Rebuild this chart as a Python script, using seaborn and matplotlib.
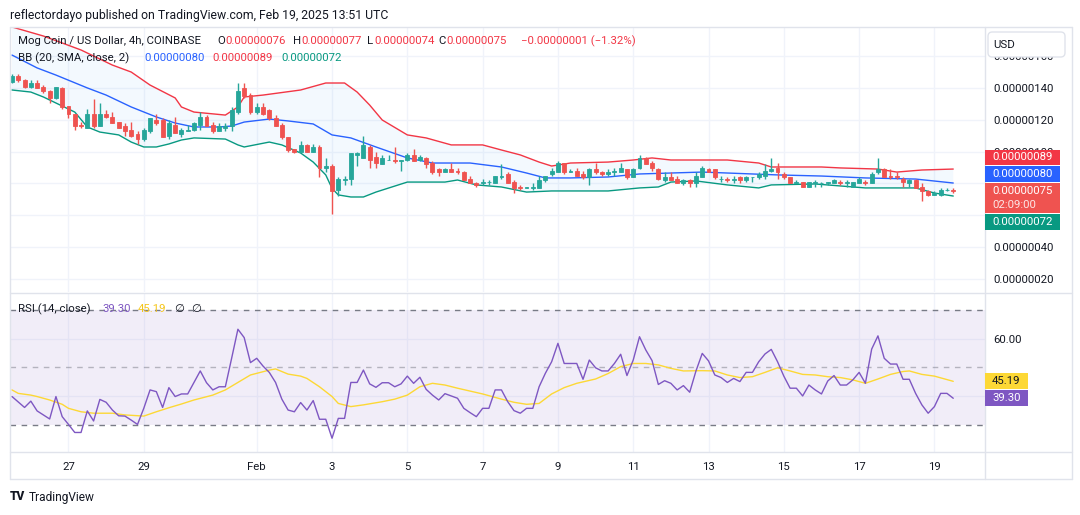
import matplotlib
matplotlib.use("Agg")
import matplotlib.pyplot as plt
from matplotlib.patches import Rectangle, FancyBboxPatch
from matplotlib.lines import Line2D
import numpy as np
import pandas as pd
import seaborn as sns

W, H = 1080, 515

# ---------------- data (prices in units of 1e-8 USD, 4h bars from Jan 25 12:00 UTC) ----------------
opens = [144,148,145,141,143,141,138,134,140,129, 124,117,115,124,116,124,122,119,116,114,
         111,108,113,120,120,110,117,111,113,114, 117,122,117,113,115,116,125,140,136,125,
         128,126,121,117,109,102,100,104,100,103, 90,91,76,82,83,98,96,103,97,92,
         95,95,94,95,98,95,96,93,89,87, 89,88,87,83,80,80,81,80,84,86,
         81,78,77,77,77,82,86,87,93,87, 88,86,84,89,87,86,87,87,89,84,
         90,96,93,89,82,84,83,80,82,80, 84,89,89,83,83,82,84,82,84,84,
         85,88,90,86,84,80,81,78,80,80, 80,80,81,80,78,80,81,80,87,89,
         85,85,83,80,82,78,75,73,73,76, 76]
highs = [149,149,146,145,145,142,139,141,141,129, 124,119,127,133,131,126,125,119,118,119,
         113,115,121,124,121,120,122,115,117,119, 125,123,119,118,118,128,143,143,137,131,
         131,127,123,118,109,102,107,105,105,104, 96,92,84,85,99,100,110,104,100,98,
         98,103,95,99,102,98,97,94,90,90, 93,90,88,85,81,83,82,85,92,87,
         82,79,78,80,85,85,90,94,93,89, 90,88,90,93,88,89,90,93,89,90,
         98,97,94,90,87,87,85,83,83,87, 91,90,89,85,84,85,85,85,84,87,
         92,96,93,87,84,82,81,81,82,81, 81,83,82,82,81,84,82,87,96,90,
         89,87,84,83,83,80,76,75,77,77, 77]
lows = [143,144,140,140,140,137,131,133,127,121, 114,115,115,115,116,121,118,115,110,109,
        105,107,112,117,109,108,112,109,113,113, 114,116,112,113,113,113,124,134,124,124,
        123,120,116,108,100,99,100,100,100,84, 87,61,72,79,79,91,96,90,90,92,
        95,93,88,94,94,94,90,86,85,87, 87,86,82,80,78,79,79,80,83,80,
        74,76,77,76,77,81,85,87,86,87, 85,83,79,86,85,85,85,87,83,84,
        89,92,88,82,81,82,80,79,78,78, 84,87,83,81,81,80,80,81,81,83,
        83,87,83,83,80,80,78,78,78,78, 79,80,79,78,78,80,79,80,86,84,
        83,83,78,78,77,69,72,73,72,75, 74]
closes = [148,145,141,143,140,138,134,141,128,124, 116,116,124,116,124,122,118,115,113,110,
          108,114,121,118,109,118,112,114,114,118, 122,116,113,116,116,126,138,135,125,128,
          124,121,116,109,101,100,104,100,103,90, 91,75,83,83,99,99,104,95,93,96,
          95,94,95,98,94,97,92,87,87,89, 87,87,82,80,79,81,81,85,85,80,
          77,77,78,78,82,85,88,93,87,88, 85,84,89,87,86,87,88,90,84,89,
          96,92,90,83,84,82,80,82,80,85, 90,87,84,83,82,83,82,84,84,86,
          88,89,87,84,80,81,78,81,81,80, 81,82,80,81,81,83,80,86,89,84,
          84,84,81,82,77,75,73,74,76,76, 75]

upper_idx = [0,5,11,16,19,22,26,27,29,34,36,37,40,46,50,53,55,57,59,63,66,70,75,78,81,84,86,89,
             95,99,102,105,110,114,119,121,129,132,138,141,145,150]
upper_val = [178.6,172.9,164.1,154.6,150.2,142.0,133.9,128.2,125.0,123.1,128.2,134.5,135.7,138.9,
             143.3,143.3,137.6,129.4,120.0,110.6,108.7,104.3,104.3,101.1,98.0,93.5,91.0,92.9,
             93.5,94.8,96.1,94.8,94.8,94.8,92.9,90.4,90.4,89.8,89.1,87.2,88.5,89.1]
mid_idx = [0,4,7,12,15,19,23,26,29,33,35,37,41,44,48,51,54,58,63,67,73,78,82,85,89,95,100,105,
           110,114,122,129,136,144,150]
mid_val = [160.9,152.8,148.3,140.2,135.7,128.2,121.9,118.1,115.6,115.6,116.2,118.7,120.6,119.4,
           117.5,110.6,108.7,103.0,96.1,92.9,92.9,90.4,86.6,83.5,83.5,84.1,86.0,86.6,87.2,86.6,
           85.4,84.7,83.5,82.8,80.3]
lower_idx = [0,3,5,7,10,12,14,17,19,21,23,25,27,29,34,36,37,41,43,46,48,50,51,52,54,56,58,63,69,
             71,74,78,82,86,95,100,103,105,109,114,119,121,128,136,144,147,150]
lower_val = [138.9,137.6,134.5,130.7,125.0,115.6,112.4,110.6,106.1,103.0,103.0,104.9,107.4,108.7,
             108.0,104.3,103.0,106.1,104.3,99.2,93.5,85.4,76.9,72.8,71.5,71.5,74.6,80.9,80.9,
             82.2,79.1,77.8,74.6,75.3,75.3,77.2,77.8,80.9,81.6,79.1,77.2,79.1,79.7,77.2,77.2,
             74.0,72.1]

rsi = [39.9,38.0,36.1,38.3,34.9,33.5,32.1,39.9,32.9,30.2,
       27.4,27.4,34.9,31.4,38.9,37.9,35.2,33.2,33.1,31.7,
       30.2,35.8,42.2,41.6,36.1,43.0,39.9,40.8,40.8,44.8,
       48.8,44.7,42.2,43.3,43.3,53.2,63.3,60.4,51.7,53.2,
       50.5,48.3,44.8,39.0,35.2,34.6,37.8,35.2,38.5,32.0,
       32.0,25.4,32.3,32.3,44.8,44.8,49.1,44.3,43.1,44.7,
       44.7,43.3,44.3,47.0,44.5,46.6,42.4,40.4,38.7,40.9,
       40.1,39.3,35.8,34.3,32.9,35.8,35.8,42.2,42.2,38.1,
       35.0,34.1,35.8,35.8,43.3,48.0,52.0,58.4,51.4,51.4,
       51.4,45.9,52.6,49.9,48.8,48.8,51.4,54.6,47.2,52.6,
       60.7,56.1,52.4,44.1,45.4,44.5,42.2,43.7,41.4,48.8,
       54.9,52.3,47.4,46.5,44.8,46.2,45.1,48.3,48.3,52.0,
       54.7,56.3,52.0,47.0,42.8,42.8,40.1,43.9,42.2,40.8,
       45.3,47.2,43.9,43.9,45.7,48.3,44.5,56.4,61.0,53.2,
       51.2,51.2,45.9,45.9,41.0,37.0,34.1,36.4,41.0,41.0,
       39.30]
ma_idx = [0,1,3,4,6,8,9,11,13,16, 18,21,23,25,27,29,32,34,36,38, 41,42,44,46,47,49,51,52,54,56,
          59,61,63,65,67,69,71,75,78,80, 82,84,86,88,90,93,95,97,99,101, 103,105,107,110,112,114,116,118,120,122,
          124,126,128,130,132,134,136,138,140,142, 143,145,147,150]
ma_val = [42.2,41.0,40.4,39.9,38.7,37.2,35.8,34.6,34.1,34.1, 33.5,33.1,34.6,36.0,37.3,38.7,40.4,42.2,44.8,47.4,
          49.1,49.5,47.7,47.0,46.2,43.3,39.9,37.5,36.4,37.0, 38.1,39.0,40.4,43.3,44.5,43.9,42.8,40.8,39.0,37.9,
          37.2,37.5,40.8,43.0,44.5,46.0,47.9,50.3,51.4,51.4, 50.9,49.7,48.8,48.9,48.8,47.4,46.5,46.8,48.3,49.9,
          48.8,47.6,47.4,46.8,46.5,45.7,44.5,46.0,47.6,48.6, 48.8,47.6,47.0,45.19]

day_ticks = [9, 21, 39, 51, 63, 75, 87, 99, 111, 123, 135, 147]
day_labels = ["27", "29", "Feb", "3", "5", "7", "9", "11", "13", "15", "17", "19"]
price_ticks = [20, 40, 60, 80, 100, 120, 140, 160]
covered_ticks = [60, 80]          # labels hidden behind the price badges in the reference
rsi_ticks = [40, 60]
countdown = "02:09:00"
title = "reflectordayo published on TradingView.com, Feb 19, 2025 13:51 UTC"
symbol = "Mog Coin / US Dollar, 4h, COINBASE"

# ---------------- style ----------------
sns.set_theme(style="white")
plt.rcParams['font.family'] = ['Roboto', 'DejaVu Sans']
DARK = '#131722'
GREEN = '#26A69A'
RED = '#EF5350'
BBRED = '#F23645'
BBBLUE = '#2962FF'
BBGREEN = '#089981'
PURPLE = '#7E57C2'
YELLOW = '#FDD835'
GRID = '#F0F3FA'
BORDER = '#E0E3EB'

fig = plt.figure(figsize=(W / 100, H / 100), dpi=100)
fig.patch.set_facecolor('white')


def fx(px):
    return px / W


def fy(py):
    return 1 - py / H


def price_str(v):
    return f"{v / 1e8:.8f}"


ax1 = fig.add_axes([fx(10), fy(292), (985 - 10) / W, (292 - 28) / H])
ax2 = fig.add_axes([fx(10), fy(452), (985 - 10) / W, (452 - 293) / H])

df = pd.DataFrame(dict(i=np.arange(len(opens)), o=opens, h=highs, l=lows, c=closes))
cols = np.where(df.c >= df.o, GREEN, RED)

# ---------------- main panel ----------------
poly_x = upper_idx + lower_idx[::-1]
poly_y = upper_val + lower_val[::-1]
ax1.fill(poly_x, poly_y, color='#2196F3', alpha=0.05, lw=0, zorder=1)
sns.lineplot(x=upper_idx, y=upper_val, ax=ax1, color=BBRED, lw=1, estimator=None, sort=False, zorder=2)
sns.lineplot(x=mid_idx, y=mid_val, ax=ax1, color=BBBLUE, lw=1, estimator=None, sort=False, zorder=2)
sns.lineplot(x=lower_idx, y=lower_val, ax=ax1, color=BBGREEN, lw=1, estimator=None, sort=False, zorder=2)
ax1.vlines(df.i, df.l, df.h, colors=cols, lw=1, zorder=3)
ax1.bar(df.i, df.c - df.o, bottom=df.o, width=0.62, color=cols, edgecolor=cols, lw=0.6, zorder=4)

ax1.set_xlim(-0.32, 155.06)
ax1.set_ylim(11.65, 177.95)
ax1.set_xticks(day_ticks)
ax1.set_yticks(price_ticks)
ax1.set_yticklabels(['' if v in covered_ticks else price_str(v) for v in price_ticks])
ax1.yaxis.tick_right()
ax1.tick_params(axis='x', labelbottom=False, length=0)
ax1.tick_params(axis='y', length=0, pad=6, labelsize=8.2, labelcolor=DARK)
ax1.grid(True, color=GRID, lw=1)
ax1.set_axisbelow(True)
ax1.set_xlabel('')
ax1.set_ylabel('')
for s in ax1.spines.values():
    s.set_visible(False)

# ---------------- RSI panel ----------------
ax2.axhspan(30, 70, color=PURPLE, alpha=0.1, lw=0, zorder=1)
ax2.axhline(70, color='#787B86', lw=1, ls=(0, (4, 4)), zorder=2)
ax2.axhline(50, color='#787B86', lw=1, ls=(0, (4, 4)), alpha=0.5, zorder=2)
ax2.axhline(30, color='#787B86', lw=1, ls=(0, (4, 4)), zorder=2)
sns.lineplot(x=list(range(len(rsi))), y=rsi, ax=ax2, color=PURPLE, lw=1, estimator=None, sort=False, zorder=4)
sns.lineplot(x=ma_idx, y=ma_val, ax=ax2, color=YELLOW, lw=1, estimator=None, sort=False, zorder=3)
ax2.set_xlim(-0.32, 155.06)
ax2.set_ylim(20.61, 75.91)
ax2.set_xticks(day_ticks)
ax2.set_xticklabels(day_labels)
ax2.set_yticks(rsi_ticks)
ax2.set_yticklabels(['' if v == 40 else f"{v:.2f}" for v in rsi_ticks])
ax2.yaxis.tick_right()
ax2.tick_params(axis='x', length=0, pad=7, labelsize=8.2, labelcolor=DARK)
ax2.tick_params(axis='y', length=0, pad=6, labelsize=8.2, labelcolor=DARK)
ax2.grid(True, color=GRID, lw=1)
ax2.set_axisbelow(True)
ax2.set_xlabel('')
ax2.set_ylabel('')
for s in ax2.spines.values():
    s.set_visible(False)

# ---------------- frame lines ----------------
def hline(y, x0=10, x1=1072):
    fig.add_artist(Line2D([fx(x0), fx(x1)], [fy(y), fy(y)], transform=fig.transFigure, color=BORDER, lw=1, zorder=3))


def vline(x, y0=27, y1=479):
    fig.add_artist(Line2D([fx(x), fx(x)], [fy(y0), fy(y1)], transform=fig.transFigure, color=BORDER, lw=1, zorder=3))


hline(27); hline(293); hline(452); hline(479)
vline(10); vline(985); vline(1072)

# ---------------- badges on the scales ----------------
def badge(y0, y1, x1, bg, lines, fg='white'):
    fig.add_artist(Rectangle((fx(985), fy(y1)), (x1 - 985) / W, (y1 - y0) / H,
                             transform=fig.transFigure, color=bg, lw=0, zorder=5))
    n = len(lines)
    for k, (t, a) in enumerate(lines):
        yc = y0 + (y1 - y0) * (k + 0.5) / n
        fig.text(fx(992), fy(yc), t, color=fg, alpha=a, fontsize=8.2, va='center', ha='left', zorder=6)


badge(150, 165, 1060, BBRED, [(price_str(round(upper_val[-1])), 1)])
badge(166, 182, 1060, BBBLUE, [(price_str(round(mid_val[-1])), 1)])
badge(183, 213, 1060, RED, [(price_str(closes[-1]), 1), (countdown, 0.85)])
badge(214, 230, 1060, BBGREEN, [(price_str(round(lower_val[-1])), 1)])
badge(373, 389, 1028, YELLOW, [(f"{ma_val[-1]:.2f}", 1)], fg=DARK)
badge(390, 406, 1028, PURPLE, [(f"{rsi[-1]:.2f}", 1)])

usd = FancyBboxPatch((fx(988), fy(57)), 77 / W, 25 / H, boxstyle="round,pad=0,rounding_size=0.004",
                     mutation_aspect=W / H, transform=fig.transFigure, facecolor='white',
                     edgecolor=BORDER, lw=1, zorder=5)
fig.add_artist(usd)
fig.text(fx(993), fy(45), "USD", fontsize=8.2, color=DARK, va='center', ha='left', zorder=6)

# ---------------- header texts ----------------
fig.text(fx(10), fy(15), title, fontsize=8.8, color=DARK, va='center', ha='left')


def pieces(y, items):
    for x, t, c in items:
        fig.text(fx(x), fy(y), t, fontsize=8.2, color=c, va='center', ha='left', zorder=6,
                 family=['Roboto', 'DejaVu Sans'])


chg = closes[-1] - closes[-2]
pct = chg / closes[-2] * 100
chg_txt = f"{'−' if chg < 0 else '+'}{price_str(abs(chg))} ({'−' if pct < 0 else '+'}{abs(pct):.2f}%)"
pieces(41, [(18, symbol, DARK),
            (217, "O", DARK), (225, price_str(opens[-1]), BBRED),
            (293, "H", DARK), (301, price_str(highs[-1]), BBRED),
            (367, "L", DARK), (374, price_str(lows[-1]), BBRED),
            (438, "C", DARK), (446, price_str(closes[-1]), BBRED),
            (521, chg_txt, BBRED)])
pieces(58, [(18, "BB (20, SMA, close, 2)", DARK),
            (144, price_str(round(mid_val[-1])), BBBLUE),
            (212, price_str(round(upper_val[-1])), BBRED),
            (281, price_str(round(lower_val[-1])), BBGREEN)])
pieces(309, [(18, "RSI (14, close)", DARK),
             (102, f"{rsi[-1]:.2f}", PURPLE),
             (138, f"{ma_val[-1]:.2f}", '#F5C518'),
             (174, "∅", DARK), (191, "∅", DARK)])

# ---------------- footer ----------------
fig.text(fx(10), fy(497), "TV", fontsize=8.5, weight='black', color=DARK, va='center', ha='left')
fig.text(fx(29), fy(497), "TradingView", fontsize=8.6, color=DARK, va='center', ha='left')

fig.savefig("out.png", dpi=100, facecolor='white')
